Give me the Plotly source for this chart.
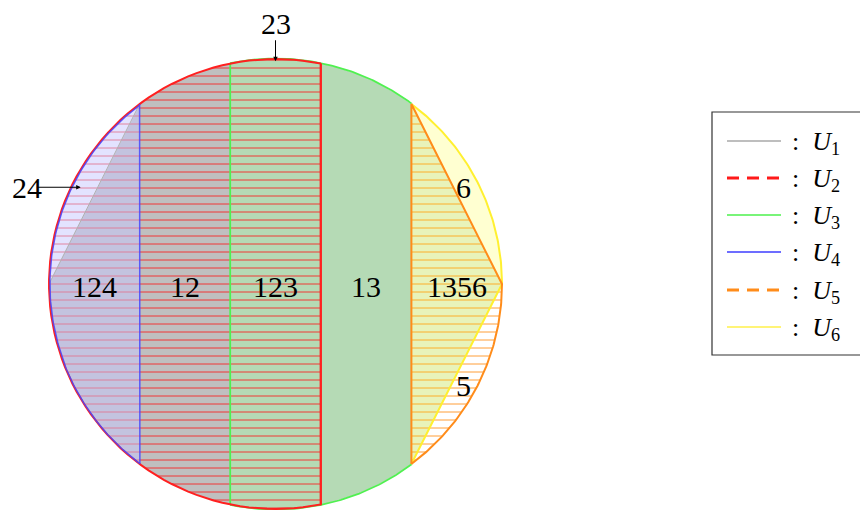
import numpy as np
import plotly.graph_objects as go

# ---- data (unit circle, vertical cuts) ----
cuts = [-0.6, -0.2, 0.2, 0.6]
region_labels = ["124", "12", "123", "13", "1356", "6", "5"]
region_x = [-0.80, -0.40, 0.0, 0.40, 0.80, 0.83, 0.83]
region_y = [-0.01, -0.01, -0.01, -0.01, -0.01, 0.43, -0.45]
legend_names = ["U1", "U2", "U3", "U4", "U5", "U6"]
legend_colors = ["#a8a8a8", "#ff1a1a", "#4cf04c", "#3c3cff", "#ff8c1a", "#fff04a"]
legend_dash = ["solid", "dash", "solid", "solid", "dash", "solid"]

FONT = "Liberation Serif"
OFF = 8  # page body margin in px

W, H = 868, 510


def px(sx):
    return (sx - OFF) / W


def py(sy):
    return 1 - (sy - OFF) / H


def ang(x, upper=True):
    a = np.degrees(np.arccos(x))
    return a if upper else 360 - a


def arc(a0, a1, n=90, r=1.0):
    t = np.radians(np.linspace(a0, a1, n))
    return list(r * np.cos(t)), list(r * np.sin(t))


def poly(*parts):
    xs, ys = [], []
    for qx, qy in parts:
        xs += list(qx)
        ys += list(qy)
    return xs, ys


def pt(x, y):
    return [x], [y]


c0, c1, c2, c3 = cuts
yc3 = np.sqrt(1 - c3 ** 2)
yc0 = np.sqrt(1 - c0 ** 2)

fig = go.Figure()


def fill(xs, ys, color, pattern=None):
    kw = dict(x=xs, y=ys, mode="lines", fill="toself", line=dict(width=0),
              showlegend=False, hoverinfo="skip")
    if pattern:
        kw["fillcolor"] = "rgba(0,0,0,0)"
        kw["fillpattern"] = dict(shape="-", fgcolor=pattern, bgcolor="rgba(0,0,0,0)",
                                 size=8, solidity=0.125, fillmode="replace")
    else:
        kw["fillcolor"] = color
    fig.add_trace(go.Scatter(**kw))


def line(xs, ys, color, width=1.6):
    fig.add_trace(go.Scatter(x=xs, y=ys, mode="lines", line=dict(color=color, width=width),
                             showlegend=False, hoverinfo="skip"))


# U1 gray
gx, gy = poly(pt(-1, 0), pt(c0, yc0), arc(ang(c0), ang(c1)),
              arc(ang(c1, False), 180))
fill(gx, gy, "rgba(128,128,128,0.5)")
# U3 green
ux, uy = poly(arc(ang(c1), ang(c3)), arc(ang(c3, False), ang(c1, False)))
fill(ux, uy, "rgba(0,128,0,0.29)")
# faint part of U3 in triangle
tx, ty = poly(pt(c3, yc3), pt(1, 0), pt(c3, -yc3))
fill(tx, ty, "rgba(0,128,0,0.11)")
# U2 red hatch
rx, ry = poly(arc(ang(c2), ang(c2, False)))
fill(rx, ry, None, pattern="rgba(250,30,30,0.85)")
# U5 orange hatch
ox, oy = poly(pt(c3, yc3), pt(1, 0), arc(0, -ang(c3)))
fill(ox, oy, None, pattern="rgba(255,140,20,0.85)")
# U4 blue
bx, by = poly(arc(ang(c0), ang(c0, False)))
fill(bx, by, "rgba(200,200,255,0.5)")
# U6 yellow
yx, yy = poly(arc(ang(c3), 0), pt(c3, -yc3))
fill(yx, yy, "rgba(255,255,0,0.18)")

# outlines
line([-1, c0], [0, yc0], "#b0b0b0", 1)
ax_, ay_ = poly(arc(ang(c1), ang(c3), r=1.002))
line(ax_, ay_, "#50f050", 1.8)
ax_, ay_ = poly(arc(ang(c3, False), ang(c1, False), r=1.002))
line(ax_, ay_, "#50f050", 1.8)
line([c1, c1], [np.sqrt(1 - c1 ** 2), -np.sqrt(1 - c1 ** 2)], "#50f050", 1.8)
ax_, ay_ = poly(arc(ang(c2), ang(c2, False)), pt(c2, np.sqrt(1 - c2 ** 2)))
line(ax_, ay_, "#ff2020", 2)
ax_, ay_ = poly(arc(ang(c0), 200, r=0.996), arc(200, ang(c0, False), r=0.998), pt(c0, yc0))
line(ax_, ay_, "rgba(70,70,255,0.85)", 1.5)
ax_, ay_ = poly(arc(ang(c3), 0), pt(c3, -yc3))
line(ax_, ay_, "#fff030", 2)
ax_, ay_ = poly(pt(c3, -yc3), pt(c3, yc3), pt(1, 0), arc(0, -ang(c3)))
line(ax_, ay_, "#ff8c1a", 2)
line([c2, c2], [np.sqrt(1 - c2 ** 2), -np.sqrt(1 - c2 ** 2)], "#ff2020", 2)

# region labels
for lab, lx, ly in zip(region_labels, region_x, region_y):
    fig.add_annotation(x=lx, y=ly, text=lab, showarrow=False,
                       font=dict(family=FONT, size=30, color="black"))

# pointer labels
fig.add_annotation(x=-1.097, y=0.43, text="24", showarrow=False,
                   font=dict(family=FONT, size=30, color="black"))
fig.add_annotation(x=-0.86, y=0.43, ax=-1.06, ay=0.43, axref="x", ayref="y",
                   text="", showarrow=True, arrowhead=2, arrowsize=0.9, arrowwidth=1,
                   arrowcolor="black")
fig.add_annotation(x=0.0, y=1.16, text="23", showarrow=False,
                   font=dict(family=FONT, size=30, color="black"))
fig.add_annotation(x=0.0, y=0.99, ax=0.0, ay=1.09, axref="x", ayref="y",
                   text="", showarrow=True, arrowhead=2, arrowsize=0.9, arrowwidth=1,
                   arrowcolor="black")

# ---- manual legend (screen pixel layout) ----
box = dict(x0=712, x1=900, y0=112, y1=355)
rows = [141, 178, 215, 252, 290, 327]
fig.add_shape(type="rect", xref="paper", yref="paper",
              x0=px(box["x0"]), x1=px(box["x1"]), y0=py(box["y1"]), y1=py(box["y0"]),
              line=dict(color="#333333", width=1.2), fillcolor="white")
for name, col, dash, ry_ in zip(legend_names, legend_colors, legend_dash, rows):
    fig.add_shape(type="line", xref="paper", yref="paper",
                  x0=px(727), x1=px(781), y0=py(ry_), y1=py(ry_),
                  line=dict(color=col, width=3 if dash == "dash" else 1.3,
                            dash="12px,8px" if dash == "dash" else "solid"))
    fig.add_annotation(xref="paper", yref="paper", x=px(790), y=py(ry_ + 2),
                       xanchor="left", yanchor="middle", showarrow=False,
                       text=":  <i>%s</i><sub>%s</sub>" % (name[0], name[1:]),
                       font=dict(family=FONT, size=26, color="black"))

fig.update_layout(
    width=W, height=H,
    margin=dict(l=0, r=0, t=0, b=0),
    paper_bgcolor="white", plot_bgcolor="white",
    showlegend=False,
    xaxis=dict(range=[(0 + OFF - 275.5) / 226.5, (W + OFF - 275.5) / 226.5],
               visible=False, fixedrange=True),
    yaxis=dict(range=[-(H + OFF - 284) / 225, (284 - OFF) / 225],
               visible=False, fixedrange=True),
)

fig.write_html("out.html")
